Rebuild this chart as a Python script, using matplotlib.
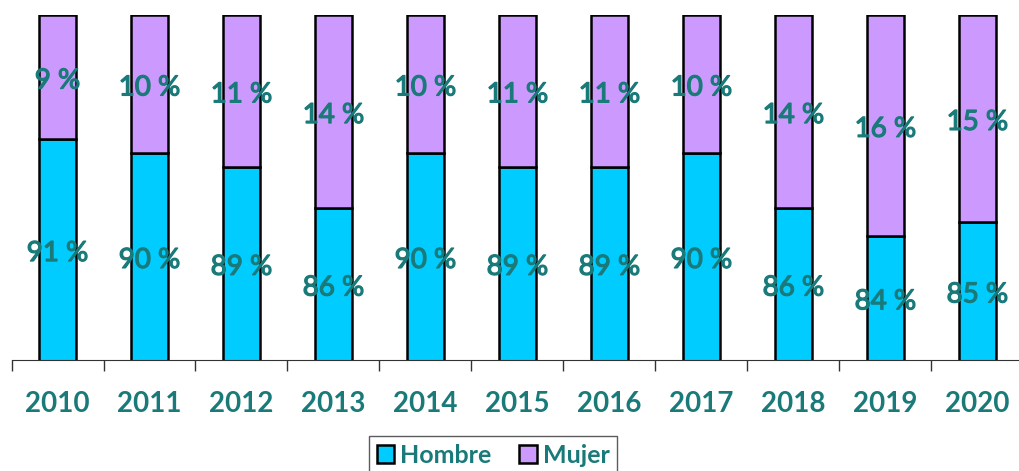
import matplotlib
matplotlib.use("Agg")
import matplotlib.pyplot as plt
import matplotlib.patheffects as pe
import numpy as np

years = ["2010", "2011", "2012", "2013", "2014", "2015", "2016", "2017", "2018", "2019", "2020"]
hombre = [91, 90, 89, 86, 90, 89, 89, 90, 86, 84, 85]
mujer = [9, 10, 11, 14, 10, 11, 11, 10, 14, 16, 15]

c_hombre = "#00CCFF"
c_mujer = "#CC99FF"
teal = "#1a7a7a"
plt.rcParams["font.family"] = ["Lato", "DejaVu Sans"]

fig = plt.figure(figsize=(10.19, 4.71), dpi=100)
ax = fig.add_axes([0.0113, 0.2357, 0.993, 0.7325])

x = np.arange(len(years))
w = 0.41
ax.bar(x, hombre, w, color=c_hombre, edgecolor="black", linewidth=1.8, label="Hombre")
ax.bar(x, mujer, w, bottom=hombre, color=c_mujer, edgecolor="black", linewidth=1.8, label="Mujer")

ymin = 75
ax.set_ylim(ymin, 100)
ax.set_xlim(-0.5, len(years) - 0.5)

# etiquetas centradas en la parte visible de cada tramo
grueso = [pe.withStroke(linewidth=0.9, foreground=teal)]
for i in range(len(years)):
    ax.text(x[i], (ymin + hombre[i]) / 2 - 0.25, f"{hombre[i]} %", ha="center", va="center",
            fontsize=20, color=teal, path_effects=grueso)
    ax.text(x[i], (hombre[i] + 100) / 2 - 0.25, f"{mujer[i]} %", ha="center", va="center",
            fontsize=20, color=teal, path_effects=grueso)

for s in ["left", "right", "top"]:
    ax.spines[s].set_visible(False)
ax.spines["bottom"].set_color("#333333")
ax.set_yticks([])
ax.set_xticks(x)
ax.set_xticklabels(years, fontsize=20, fontweight="bold", color=teal)
ax.tick_params(axis="x", which="major", length=0, pad=22)
ax.set_xticks(np.arange(-0.5, len(years)), minor=True)
ax.tick_params(axis="x", which="minor", length=8, width=1, color="#333333")

leg = fig.legend(loc="upper center", bbox_to_anchor=(0.484, 0.074), ncol=2,
                 frameon=True, fancybox=False, edgecolor="#333333",
                 prop={"size": 18, "weight": "bold"}, handlelength=0.7,
                 handleheight=0.7, handletextpad=0.25, columnspacing=1.1,
                 borderpad=0.3, borderaxespad=0)
for t in leg.get_texts():
    t.set_color(teal)

fig.savefig("out.png", dpi=100)
